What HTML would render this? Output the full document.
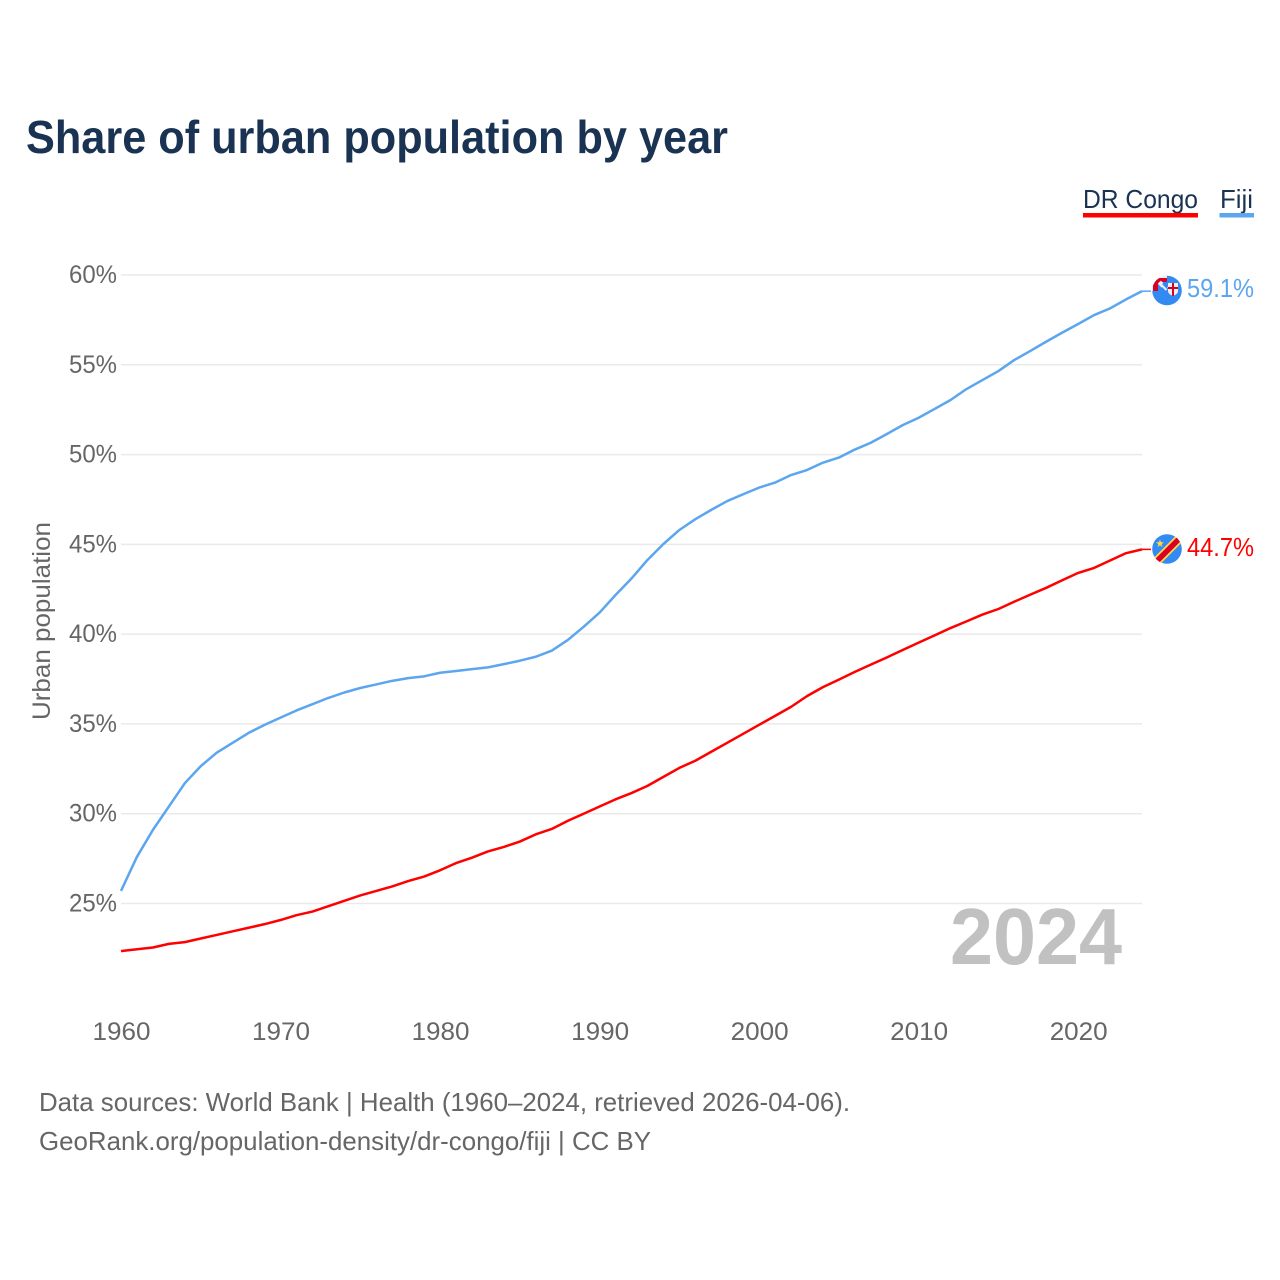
<!DOCTYPE html>
<html lang="en">
<head>
<meta charset="utf-8">
<title>Share of urban population by year</title>
<style>
html,body{margin:0;padding:0;background:#fff;}
svg{display:block;}
text{font-family:"Liberation Sans",sans-serif;}
</style>
</head>
<body>
<svg id="chart" xmlns="http://www.w3.org/2000/svg" width="1280" height="1280" viewBox="0 0 1280 1280">
  <rect width="1280" height="1280" fill="#fff"/>
  <text x="26" y="153" font-size="46" font-weight="700" fill="#1a3352" textLength="702" lengthAdjust="spacingAndGlyphs">Share of urban population by year</text>
  <g id="grid"></g>
  <g id="yticks"></g>
  <g id="xticks"></g>
  <text transform="translate(50,621) rotate(-90)" text-anchor="middle" font-size="25" fill="#666" textLength="198" lengthAdjust="spacingAndGlyphs">Urban population</text>
  <text x="950" y="964" font-size="80" font-weight="700" fill="#c1c1c1" textLength="172" lengthAdjust="spacingAndGlyphs">2024</text>
  <g id="series"></g>

  <g>
    <text x="1083" y="208" font-size="26" fill="#1a3352" textLength="115" lengthAdjust="spacingAndGlyphs">DR Congo</text>
    <rect x="1083" y="213" width="115" height="4.5" fill="#ff0000"/>
  </g>
  <g>
    <text x="1220" y="208" font-size="26" fill="#1a3352" textLength="33" lengthAdjust="spacingAndGlyphs">Fiji</text>
    <rect x="1219.500" y="213" width="34.500" height="4.500" fill="#5ca5ef"/>
  </g>

  <defs>
    <clipPath id="clip-fiji"><circle cx="1167" cy="290.500" r="14.800"/></clipPath>
    <clipPath id="clip-drc"><circle cx="1167" cy="549" r="14.800"/></clipPath>
  </defs>
  <g clip-path="url(#clip-fiji)">
    <rect x="1152" y="275" width="30" height="31" fill="#338af3"/>
    <path d="M1152 291 V275 H1167 V291 Z" fill="#f0f0f0"/>
    <path d="M1153 291 V281 Q1155 278 1160 278 H1167 V282 H1160 Q1158 282 1158 285 V291 Z" fill="#d80027"/>
    <path d="M1158 284 L1165 291 H1158 Z" fill="#338af3"/>
    <path d="M1160 281.500 L1167 288.500" stroke="#f0f0f0" stroke-width="2.500" fill="none"/>
    <path d="M1167 282 V291 H1161 L1163 282 Z" fill="#338af3"/>
    <path d="M1159.500 283 L1166.500 290" stroke="#f0f0f0" stroke-width="2" fill="none"/>
    <path d="M1168 283 H1178 V291 Q1178 294 1173 296 Q1168 294 1168 291 Z" fill="#f0f0f0"/>
    <rect x="1172" y="283" width="2" height="13" fill="#d80027"/>
    <rect x="1168" y="287" width="10" height="2" fill="#d80027"/>
  </g>
  <g clip-path="url(#clip-drc)">
    <rect x="1152" y="534" width="30" height="30" fill="#338af3"/>
    <path d="M1152 566 L1184 534" stroke="#ffda44" stroke-width="9" fill="none"/>
    <path d="M1152 566 L1184 534" stroke="#d80027" stroke-width="5.500" fill="none"/>
    <path d="M1160 539.500 L1161 542.300 L1164 542.400 L1161.600 544.200 L1162.500 547 L1160 545.400 L1157.500 547 L1158.400 544.200 L1156 542.400 L1159 542.300 Z" fill="#ffda44"/>
  </g>

  <text x="1187" y="297" font-size="26" fill="#5ca5ef" textLength="67" lengthAdjust="spacingAndGlyphs">59.1%</text>
  <text x="1187" y="556" font-size="26" fill="#ff0000" textLength="67" lengthAdjust="spacingAndGlyphs">44.7%</text>

  <text x="39" y="1111" font-size="26" fill="#666" textLength="811" lengthAdjust="spacingAndGlyphs">Data sources: World Bank | Health (1960–2024, retrieved 2026-04-06).</text>
  <text x="39" y="1150" font-size="26" fill="#666" textLength="612" lengthAdjust="spacingAndGlyphs">GeoRank.org/population-density/dr-congo/fiji | CC BY</text>
</svg>
<script>
const startYear = 1960;
const yTickValues = [25, 30, 35, 40, 45, 50, 55, 60];
const xTickValues = [1960, 1970, 1980, 1990, 2000, 2010, 2020];
const fijiValues = [25.7,27.6,29.1,30.4,31.7,32.65,33.4,33.95,34.5,34.95,35.35,35.75,36.1,36.45,36.75,37.0,37.2,37.4,37.55,37.65,37.85,37.95,38.05,38.15,38.33,38.52,38.74,39.08,39.67,40.41,41.2,42.18,43.1,44.13,45.02,45.8,46.4,46.92,47.41,47.79,48.16,48.44,48.86,49.14,49.55,49.83,50.28,50.66,51.14,51.64,52.05,52.54,53.04,53.65,54.15,54.65,55.27,55.77,56.29,56.79,57.27,57.77,58.14,58.64,59.1];
const drCongoValues = [22.35,22.45,22.55,22.75,22.85,23.05,23.25,23.45,23.65,23.85,24.08,24.35,24.55,24.85,25.15,25.45,25.7,25.95,26.25,26.5,26.85,27.25,27.55,27.9,28.15,28.45,28.85,29.15,29.6,30.0,30.4,30.8,31.15,31.55,32.05,32.55,32.95,33.45,33.95,34.45,34.95,35.45,35.95,36.55,37.05,37.47,37.9,38.3,38.7,39.12,39.53,39.93,40.34,40.71,41.09,41.4,41.81,42.2,42.58,43.0,43.41,43.69,44.1,44.51,44.72];

const SVG_NS = 'http://www.w3.org/2000/svg';
const xScale = function (year) { return 121 + (year - 1960) * (1142 - 121) / 64; };
const yScale = function (pct) { return 903.5 - (pct - 25) * (903.5 - 275) / 35; };

const gridGroup = document.getElementById('grid');
const yTickGroup = document.getElementById('yticks');
const xTickGroup = document.getElementById('xticks');
const seriesGroup = document.getElementById('series');

yTickValues.forEach(function (v) {
  const line = document.createElementNS(SVG_NS, 'line');
  
  
  line.setAttribute('x1', 121);
  line.setAttribute('x2', 1142);
  line.setAttribute('y1', yScale(v));
  line.setAttribute('y2', yScale(v));
  line.setAttribute('stroke', '#eaeaea');
  line.setAttribute('stroke-width', '1.5');
  gridGroup.appendChild(line);

  const label = document.createElementNS(SVG_NS, 'text');
  
  
  label.setAttribute('x', 117);
  label.setAttribute('y', yScale(v) + 8);
  label.setAttribute('text-anchor', 'end');
  label.setAttribute('font-size', '25');
  label.setAttribute('fill', '#666');
  label.setAttribute('textLength', '48');
  label.setAttribute('lengthAdjust', 'spacingAndGlyphs');
  label.textContent = v + '%';
  yTickGroup.appendChild(label);
});

xTickValues.forEach(function (year) {
  const label = document.createElementNS(SVG_NS, 'text');
  
  
  label.setAttribute('x', xScale(year) + 0.5);
  label.setAttribute('y', 1040);
  label.setAttribute('text-anchor', 'middle');
  label.setAttribute('font-size', '25');
  label.setAttribute('fill', '#666');
  label.setAttribute('textLength', '58');
  label.setAttribute('lengthAdjust', 'spacingAndGlyphs');
  label.textContent = year;
  xTickGroup.appendChild(label);
});

function linePoints(values) {
  return values.map(function (v, i) {
    return xScale(startYear + i).toFixed(2) + ',' + yScale(v).toFixed(2);
  }).join(' ');
}

const fijiLine = document.createElementNS(SVG_NS, 'polyline');


fijiLine.setAttribute('points', linePoints(fijiValues));
fijiLine.setAttribute('fill', 'none');
fijiLine.setAttribute('stroke', '#5ca5ef');
fijiLine.setAttribute('stroke-width', '2.5');
fijiLine.setAttribute('stroke-linejoin', 'round');
seriesGroup.appendChild(fijiLine);

const drCongoLine = document.createElementNS(SVG_NS, 'polyline');


drCongoLine.setAttribute('points', linePoints(drCongoValues));
drCongoLine.setAttribute('fill', 'none');
drCongoLine.setAttribute('stroke', '#ff0000');
drCongoLine.setAttribute('stroke-width', '2.5');
drCongoLine.setAttribute('stroke-linejoin', 'round');
seriesGroup.appendChild(drCongoLine);

const fijiConnector = document.createElementNS(SVG_NS, 'line');


fijiConnector.setAttribute('x1', xScale(2024));
fijiConnector.setAttribute('x2', 1151);
fijiConnector.setAttribute('y1', yScale(fijiValues[fijiValues.length - 1]));
fijiConnector.setAttribute('y2', yScale(fijiValues[fijiValues.length - 1]));
fijiConnector.setAttribute('stroke', '#5ca5ef');
fijiConnector.setAttribute('stroke-width', '1.5');
seriesGroup.appendChild(fijiConnector);

const drCongoConnector = document.createElementNS(SVG_NS, 'line');


drCongoConnector.setAttribute('x1', xScale(2024));
drCongoConnector.setAttribute('x2', 1151);
drCongoConnector.setAttribute('y1', yScale(drCongoValues[drCongoValues.length - 1]));
drCongoConnector.setAttribute('y2', yScale(drCongoValues[drCongoValues.length - 1]));
drCongoConnector.setAttribute('stroke', '#ff0000');
drCongoConnector.setAttribute('stroke-width', '1.5');
seriesGroup.appendChild(drCongoConnector);
</script>
</body>
</html>
